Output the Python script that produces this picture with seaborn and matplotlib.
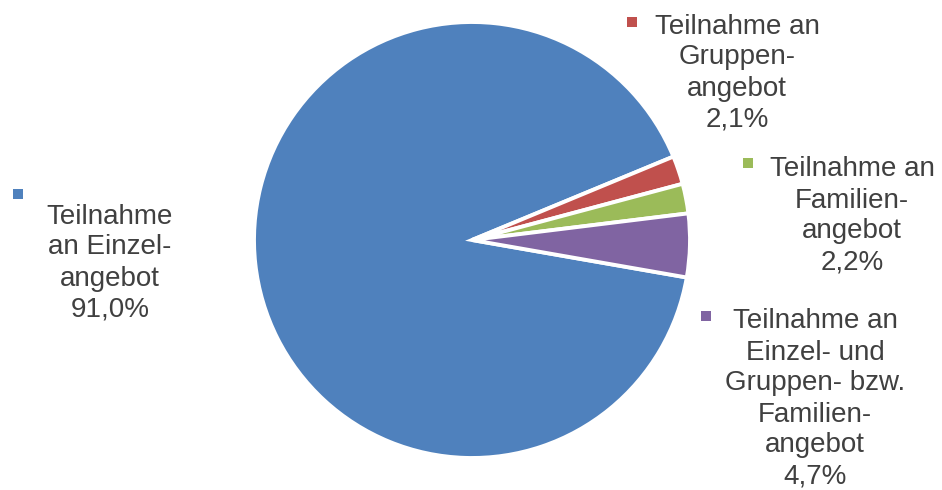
import matplotlib
matplotlib.use("Agg")
import matplotlib.pyplot as plt
import seaborn as sns

sns.set_theme(style="white")
plt.rcParams['font.family'] = ['Liberation Sans', 'DejaVu Sans']

categories = ["Teilnahme\nan Einzel-\nangebot",
              "Teilnahme an\nGruppen-\nangebot",
              "Teilnahme an\nFamilien-\nangebot",
              "Teilnahme an\nEinzel- und\nGruppen- bzw.\nFamilien-\nangebot"]
values = [91.0, 2.1, 2.2, 4.7]
value_labels = ["91,0%", "2,1%", "2,2%", "4,7%"]
colors = ["#4F81BD", "#C0504D", "#9BBB59", "#8064A2"]

W, H = 942, 490
fig = plt.figure(figsize=(W / 100, H / 100), dpi=100)
ax = fig.add_axes([0, 0, 1, 1])
ax.set_xlim(0, W)
ax.set_ylim(0, H)
ax.set_aspect('equal')
ax.axis('off')

ax.pie(values, colors=colors, startangle=350.1, counterclock=False,
       center=(472, H - 240), radius=218, frame=True,
       wedgeprops=dict(edgecolor="white", linewidth=2.8))
ax.set_xlim(0, W)
ax.set_ylim(0, H)
ax.axis('off')

# label layout: (text center x, text center y, marker x, marker y) in pixels from top-left
layout = [(110, 263, 18, 194),
          (737, 73, 632, 22),
          (852, 216, 748, 163),
          (815, 399, 706, 316)]

text_color = "#404040"
for cat, vl, col, (tx, ty, mx, my) in zip(categories, value_labels, colors, layout):
    ax.text(tx, H - ty, cat + "\n" + vl, ha="center", va="center",
            fontsize=20, color=text_color, linespacing=1.25)
    ax.scatter([mx], [H - my], marker="s", s=52, color=col, linewidths=0)

fig.savefig("out.png", dpi=100)
